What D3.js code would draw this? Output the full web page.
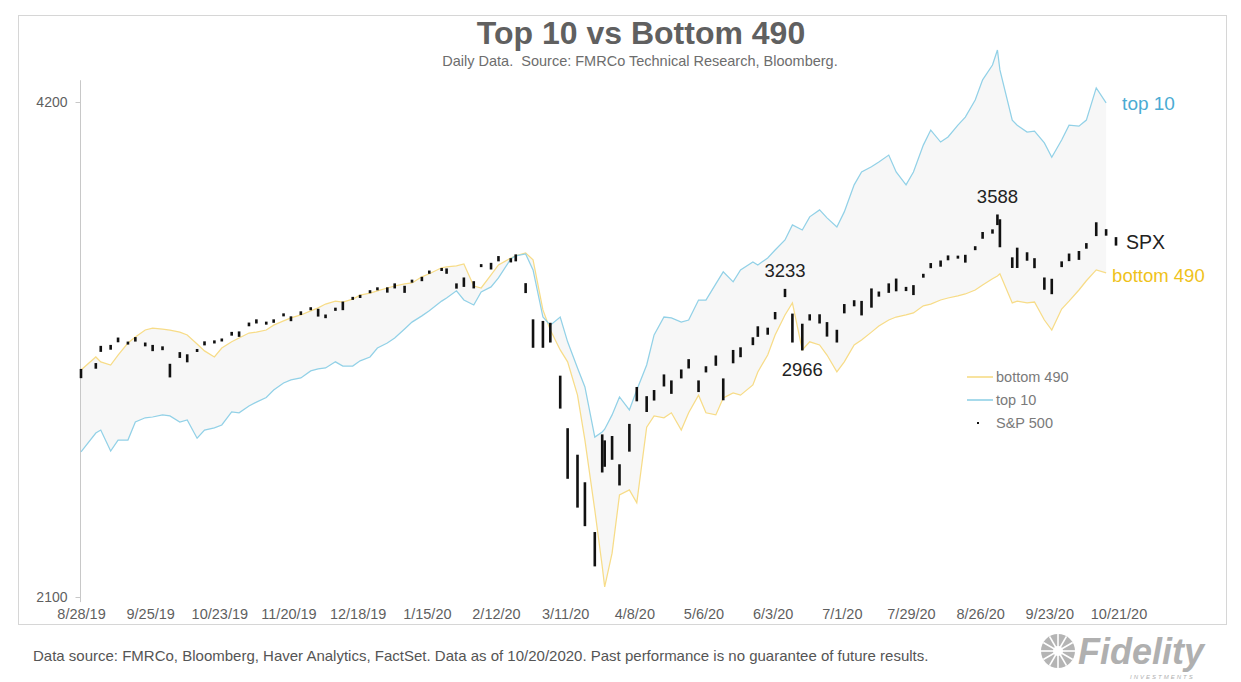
<!DOCTYPE html>
<html>
<head>
<meta charset="utf-8">
<script src="https://cdn.jsdelivr.net/npm/d3@7"></script>
<style>
    body { margin: 0; background: #fff; }
    svg { display: block; font-family: "Liberation Sans", Arial, sans-serif; }
</style>
</head>
<body>
<div id="chart"></div>
<script>
// sampled trading days (two per week)
const dates = [
    "2019-08-28", "2019-09-03", "2019-09-05", "2019-09-09", "2019-09-12", "2019-09-16", "2019-09-19", "2019-09-23",
    "2019-09-26", "2019-09-30", "2019-10-03", "2019-10-07", "2019-10-10", "2019-10-14", "2019-10-17", "2019-10-21",
    "2019-10-24", "2019-10-28", "2019-10-31", "2019-11-04", "2019-11-07", "2019-11-11", "2019-11-14", "2019-11-18",
    "2019-11-21", "2019-11-25", "2019-11-29", "2019-12-02", "2019-12-05", "2019-12-09", "2019-12-12", "2019-12-16",
    "2019-12-19", "2019-12-23", "2019-12-26", "2019-12-30", "2020-01-02", "2020-01-06", "2020-01-09", "2020-01-13",
    "2020-01-16", "2020-01-21", "2020-01-23", "2020-01-27", "2020-01-30", "2020-02-03", "2020-02-06", "2020-02-10",
    "2020-02-13", "2020-02-18", "2020-02-20", "2020-02-24", "2020-02-27", "2020-03-02", "2020-03-05", "2020-03-09",
    "2020-03-12", "2020-03-16", "2020-03-19", "2020-03-23", "2020-03-26", "2020-03-27", "2020-03-30", "2020-04-02",
    "2020-04-06", "2020-04-09", "2020-04-13", "2020-04-16", "2020-04-20", "2020-04-23", "2020-04-27", "2020-04-30",
    "2020-05-04", "2020-05-07", "2020-05-11", "2020-05-14", "2020-05-18", "2020-05-21", "2020-05-26", "2020-05-28",
    "2020-06-01", "2020-06-04", "2020-06-08", "2020-06-11", "2020-06-15", "2020-06-18", "2020-06-22", "2020-06-25",
    "2020-06-29", "2020-07-02", "2020-07-06", "2020-07-09", "2020-07-13", "2020-07-16", "2020-07-20", "2020-07-23",
    "2020-07-27", "2020-07-30", "2020-08-03", "2020-08-06", "2020-08-10", "2020-08-13", "2020-08-17", "2020-08-20",
    "2020-08-24", "2020-08-27", "2020-08-31", "2020-09-02", "2020-09-03", "2020-09-08", "2020-09-10", "2020-09-14",
    "2020-09-17", "2020-09-21", "2020-09-24", "2020-09-28", "2020-10-01", "2020-10-05", "2020-10-08", "2020-10-12",
    "2020-10-16", "2020-10-20"
];

const spxHigh = [
    2890, 2914, 2985, 2989, 3020, 3003, 3022, 2999, 2989, 2983, 2911, 2959, 2950, 2972, 3004, 3008,
    3016, 3044, 3046, 3084, 3098, 3088, 3098, 3124, 3111, 3133, 3151, 3144, 3119, 3149, 3176, 3197,
    3206, 3227, 3240, 3240, 3258, 3247, 3275, 3288, 3317, 3329, 3327, 3258, 3285, 3268, 3347, 3353,
    3385, 3375, 3393, 3259, 3098, 3091, 3083, 2863, 2660, 2563, 2466, 2300, 2637, 2615, 2631, 2529,
    2676, 2818, 2782, 2806, 2868, 2844, 2888, 2930, 2844, 2901, 2945, 2852, 2968, 2979, 3021, 3068,
    3062, 3130, 3233, 3123, 3079, 3120, 3120, 3086, 3053, 3165, 3182, 3179, 3235, 3221, 3258, 3280,
    3242, 3250, 3302, 3352, 3364, 3388, 3387, 3391, 3432, 3501, 3514, 3588, 3564, 3379, 3425, 3403,
    3375, 3285, 3279, 3360, 3397, 3409, 3447, 3549, 3515, 3476
];

const spxLow = [
    2853, 2891, 2960, 2969, 3000, 2991, 3003, 2983, 2963, 2967, 2856, 2935, 2917, 2962, 2987, 2995,
    3004, 3028, 3023, 3068, 3080, 3075, 3083, 3112, 3090, 3117, 3139, 3110, 3103, 3135, 3138, 3184,
    3192, 3216, 3227, 3216, 3235, 3215, 3264, 3268, 3302, 3316, 3302, 3234, 3242, 3235, 3334, 3322,
    3360, 3355, 3360, 3214, 2977, 2977, 2999, 2734, 2478, 2380, 2319, 2192, 2500, 2520, 2545, 2455,
    2574, 2762, 2721, 2765, 2820, 2791, 2852, 2892, 2798, 2876, 2903, 2766, 2913, 2938, 2988, 3023,
    3032, 3098, 3196, 2999, 2966, 3093, 3080, 3024, 2999, 3124, 3155, 3115, 3149, 3198, 3215, 3222,
    3223, 3205, 3284, 3328, 3335, 3365, 3379, 3354, 3413, 3468, 3493, 3535, 3427, 3329, 3329, 3363,
    3328, 3229, 3209, 3333, 3361, 3367, 3420, 3481, 3483, 3435
];

const top10 = [
    2573, 2642, 2653, 2576, 2616, 2616, 2683, 2699, 2702, 2710, 2706, 2683, 2691, 2623, 2653, 2661,
    2672, 2721, 2718, 2744, 2759, 2777, 2806, 2834, 2846, 2854, 2882, 2890, 2894, 2919, 2902, 2902,
    2923, 2939, 2976, 2997, 3018, 3056, 3086, 3113, 3135, 3178, 3192, 3224, 3183, 3161, 3219, 3242,
    3283, 3372, 3386, 3395, 3320, 3108, 3073, 3108, 3002, 2894, 2818, 2627, 2646, 2656, 2710, 2779,
    2729, 2806, 2906, 3031, 3108, 3104, 3086, 3095, 3183, 3183, 3256, 3311, 3265, 3320, 3357, 3343,
    3376, 3414, 3462, 3536, 3511, 3576, 3611, 3571, 3526, 3601, 3740, 3808, 3836, 3861, 3899, 3808,
    3740, 3808, 3954, 4038, 3971, 3999, 4066, 4112, 4212, 4332, 4423, 4517, 4393, 4095, 4066, 4027,
    4032, 3966, 3887, 3982, 4066, 4060, 4095, 4284, 4195, null
];

const bottom490 = [
    2886, 2939, 2919, 2906, 2947, 2997, 3022, 3052, 3060, 3056, 3052, 3043, 3031, 2993, 2964, 2939,
    2976, 3002, 3018, 3039, 3043, 3052, 3073, 3091, 3104, 3117, 3135, 3148, 3165, 3178, 3174, 3187,
    3205, 3214, 3224, 3237, 3246, 3256, 3260, 3288, 3302, 3330, 3334, 3339, 3348, 3246, 3237, 3297,
    3343, 3376, 3386, 3400, 3367, 3139, 3052, 2968, 2919, 2786, 2616, 2372, 2193, 2130, 2233, 2423,
    2440, 2396, 2664, 2706, 2699, 2718, 2653, 2718, 2786, 2718, 2710, 2775, 2795, 2786, 2826, 2878,
    2947, 3031, 3117, 3170, 2968, 3002, 2989, 2947, 2878, 2919, 2989, 3010, 3043, 3069, 3095, 3108,
    3117, 3126, 3157, 3165, 3183, 3192, 3201, 3210, 3228, 3251, 3279, 3292, 3302, 3170, 3178, 3170,
    3174, 3095, 3052, 3143, 3178, 3228, 3270, 3320, 3306, null
];

const xTickLabels = ["8/28/19", "9/25/19", "10/23/19", "11/20/19", "12/18/19", "1/15/20", "2/12/20", "3/11/20",
    "4/8/20", "5/6/20", "6/3/20", "7/1/20", "7/29/20", "8/26/20", "9/23/20", "10/21/20"];
const yTickValues = [2100, 4200];

const callouts = [
    { label: "3233", date: "2020-06-08", value: 3233, dy: -12 },
    { label: "2966", date: "2020-06-15", value: 2966, dy: 26 },
    { label: "3588", date: "2020-09-02", value: 3588, dy: -11 }
];

const colors = { top: "#92d1e7", bottom: "#f7dc88", spx: "#111", topText: "#4aabd3", bottomText: "#efc21a", grey: "#5f5f5f" };

const width = 1241;
const height = 682;

const parseDay = d3.timeParse("%Y-%m-%d");
const parseTick = d3.timeParse("%m/%d/%y");

const rows = dates.map((d, i) => ({
    date: parseDay(d),
    high: spxHigh[i],
    low: spxLow[i],
    top: top10[i],
    bottom: bottom490[i]
}));
const lineRows = rows.filter(d => d.top != null && d.bottom != null);

var svg = d3.select("#chart")
    .append("svg")
    .attr("width", width)
    .attr("height", height)
    .attr("viewBox", [0, 0, width, height]);

svg.append("rect")
    .attr("x", 18.5).attr("y", 15.5)
    .attr("width", 1208).attr("height", 609)
    .attr("fill", "none")
    .attr("stroke", "#d6d6d6");

var x = d3.scaleTime()
    .domain([parseDay("2019-08-28"), parseDay("2020-10-20")])
    .range([81, 1116]);
var y = d3.scaleLog()
    .base(2)
    .domain([2100, 4200])
    .range([597, 102]);

/** shaded band between the two lines */
svg.append("path")
    .datum(lineRows)
    .attr("fill", "#f7f7f7")
    .attr("d", d3.area()
        .x(d => x(d.date))
        .y0(d => y(d.bottom))
        .y1(d => y(d.top)));

// axes
svg.append("line")
    .attr("x1", 80.5).attr("x2", 80.5)
    .attr("y1", y(2085)).attr("y2", y(4330))
    .attr("stroke", "#c8c8c8");

var gy = svg.append("g")
    .attr("transform", "translate(80.5,0)")
    .call(d3.axisLeft(y).tickValues(yTickValues).tickSize(5).tickPadding(8).tickFormat(d3.format("d")))
    .call(g => g.select(".domain").remove());
gy.selectAll(".tick line").attr("stroke", "#c8c8c8");
gy.selectAll(".tick text")
    .attr("fill", colors.grey)
    .attr("font-size", 14)
    .attr("font-family", "Liberation Sans, Arial, sans-serif");

var gx = svg.append("g")
    .attr("transform", "translate(0,600)")
    .call(d3.axisBottom(x)
        .tickValues(xTickLabels.map(parseTick))
        .tickSize(0)
        .tickPadding(9)
        .tickFormat((_, i) => xTickLabels[i]))
    .call(g => g.select(".domain").remove());
gx.selectAll(".tick text")
    .attr("fill", colors.grey)
    .attr("font-size", 14.5)
    .attr("font-family", "Liberation Sans, Arial, sans-serif");

// lines
const line = key => d3.line()
    .x(d => x(d.date))
    .y(d => y(d[key]));

svg.append("path")
    .datum(lineRows)
    .attr("fill", "none")
    .attr("stroke", colors.bottom)
    .attr("stroke-width", 1.25)
    .attr("d", line("bottom"));

svg.append("path")
    .datum(lineRows)
    .attr("fill", "none")
    .attr("stroke", colors.top)
    .attr("stroke-width", 1.25)
    .attr("d", line("top"));

// S&P 500 high-low bars
svg.append("g")
    .selectAll("rect")
    .data(rows)
    .join("rect")
    .attr("x", d => x(d.date) - 1.3)
    .attr("y", d => y(d.high))
    .attr("width", 2.6)
    .attr("height", d => Math.max(3, y(d.low) - y(d.high)))
    .attr("fill", colors.spx);

// callouts
svg.append("g")
    .selectAll("text")
    .data(callouts)
    .join("text")
    .attr("x", d => x(parseDay(d.date)))
    .attr("y", d => y(d.value) + d.dy)
    .attr("text-anchor", "middle")
    .attr("font-size", 18.5)
    .attr("fill", "#222")
    .text(d => d.label);

const last = lineRows[lineRows.length - 1];
const lastSpx = rows[rows.length - 1];

svg.append("text")
    .attr("x", x(last.date) + 16)
    .attr("y", y(4160) + 1)
    .attr("font-size", 19)
    .attr("fill", colors.topText)
    .text("top 10");
svg.append("text")
    .attr("x", x(lastSpx.date) + 10)
    .attr("y", y(lastSpx.high) + 12)
    .attr("font-size", 19.5)
    .attr("fill", "#222")
    .text("SPX");
svg.append("text")
    .attr("x", x(last.date) + 6)
    .attr("y", y(last.bottom) + 9)
    .attr("font-size", 18.5)
    .attr("fill", colors.bottomText)
    .text("bottom 490");

// legend
const legendItems = [
    { label: "bottom 490", color: colors.bottom, kind: "line" },
    { label: "top 10", color: colors.top, kind: "line" },
    { label: "S&P 500", color: colors.spx, kind: "dot" }
];
var legend = svg.append("g")
    .attr("transform", "translate(967,377)");
var li = legend.selectAll("g")
    .data(legendItems)
    .join("g")
    .attr("transform", (_, i) => `translate(0,${i * 23})`);
li.filter(d => d.kind == "line")
    .append("line")
    .attr("x1", 0).attr("x2", 26)
    .attr("stroke", d => d.color)
    .attr("stroke-width", 1.6);
li.filter(d => d.kind == "dot")
    .append("rect")
    .attr("x", 10).attr("y", -1)
    .attr("width", 2).attr("height", 2)
    .attr("fill", d => d.color);
li.append("text")
    .attr("x", 29)
    .attr("y", 5)
    .attr("font-size", 14.5)
    .attr("fill", "#7a7a7a")
    .text(d => d.label);

// titles
svg.append("text")
    .attr("x", 641)
    .attr("y", 44)
    .attr("text-anchor", "middle")
    .attr("font-size", 32)
    .attr("font-weight", "bold")
    .attr("fill", "#606060")
    .text("Top 10 vs Bottom 490");
svg.append("text")
    .attr("x", 640)
    .attr("y", 66)
    .attr("text-anchor", "middle")
    .attr("font-size", 14.5)
    .attr("fill", "#6d6d6d")
    .attr("xml:space", "preserve")
    .text("Daily Data.  Source: FMRCo Technical Research, Bloomberg.");

svg.append("text")
    .attr("x", 33)
    .attr("y", 661)
    .attr("font-size", 15)
    .attr("fill", "#555")
    .text("Data source: FMRCo, Bloomberg, Haver Analytics, FactSet. Data as of 10/20/2020. Past performance is no guarantee of future results.");

// Fidelity mark
var logo = svg.append("g").attr("transform", "translate(1058,651)");
logo.append("circle").attr("r", 17).attr("fill", "#b4b4b4");
logo.selectAll("line")
    .data(d3.range(0, 360, 30))
    .join("line")
    .attr("x1", 0).attr("y1", 0)
    .attr("x2", a => 17 * Math.cos(a * Math.PI / 180))
    .attr("y2", a => 17 * Math.sin(a * Math.PI / 180))
    .attr("stroke", "#fff")
    .attr("stroke-width", 1.6);
logo.append("circle").attr("r", 5).attr("fill", "#fff");
svg.append("text")
    .attr("x", 1078)
    .attr("y", 664)
    .attr("font-size", 36)
    .attr("font-weight", "bold")
    .attr("font-style", "italic")
    .attr("fill", "#b0b0b0")
    .text("Fidelity");
svg.append("text")
    .attr("x", 1130)
    .attr("y", 679)
    .attr("font-size", 6)
    .attr("letter-spacing", 2)
    .attr("font-style", "italic")
    .attr("fill", "#b0b0b0")
    .text("INVESTMENTS");
</script>
</body>
</html>
